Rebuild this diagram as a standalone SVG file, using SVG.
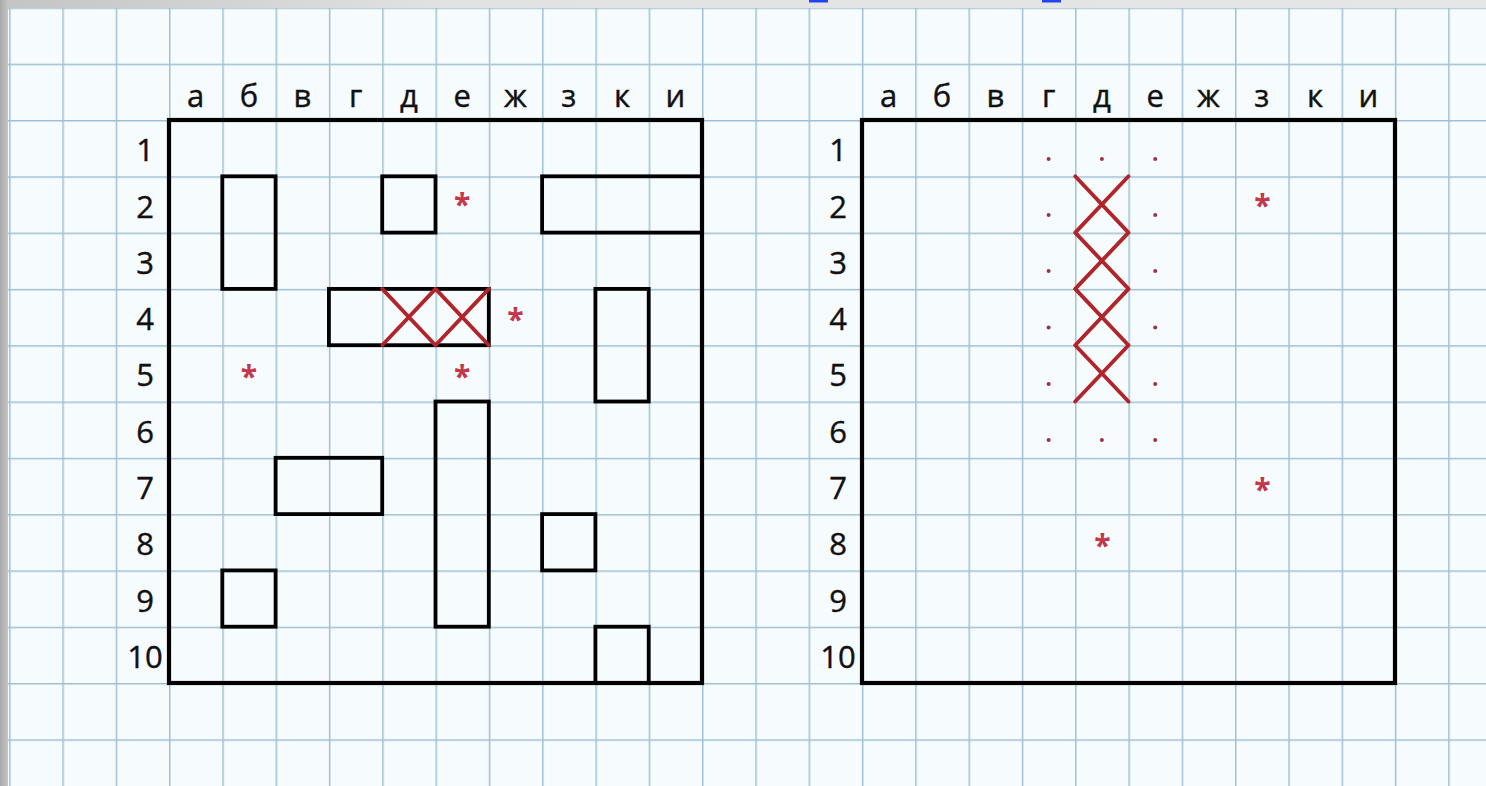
<svg xmlns="http://www.w3.org/2000/svg" width="1486" height="786" viewBox="0 0 1486 786">
<defs>
<linearGradient id="topbar" x1="0" y1="0" x2="1" y2="0">
<stop offset="0" stop-color="#c4c4c4"/><stop offset="0.3" stop-color="#e2e2e2"/><stop offset="1" stop-color="#e6e6e6"/>
</linearGradient>
<linearGradient id="leftbar" x1="0" y1="0" x2="1" y2="0">
<stop offset="0" stop-color="#a8a8a8"/><stop offset="1" stop-color="#c6c6c6"/>
</linearGradient>
<pattern id="grid" x="9.1" y="7.4" width="53.3" height="56.3" patternUnits="userSpaceOnUse">
<rect width="53.3" height="56.3" fill="#f6fbfe"/>
<path d="M0.7 0 V56.3 M0 0.7 H53.3" stroke="#9ec0d2" stroke-width="1.5" fill="none"/>
</pattern>
</defs>
<style>
.board{fill:none;stroke:#000;stroke-width:4.2}
.ship{fill:none;stroke:#000;stroke-width:3.8}
.hit{stroke:#b0242a;stroke-width:3.8;fill:none;stroke-linecap:round}
.lbl{font-family:"Open Sans","Noto Sans","DejaVu Sans",sans-serif;font-size:31px;fill:#111;text-anchor:middle;stroke:#111;stroke-width:0.4}
.miss{font-family:"Open Sans","Noto Sans","DejaVu Sans",sans-serif;font-size:30px;font-weight:bold;fill:#c4364a;text-anchor:middle}
.dot{fill:#a03040}
</style>
<rect width="1486" height="786" fill="url(#grid)"/>
<rect x="0" y="0" width="1486" height="8" fill="url(#topbar)"/>
<rect x="0" y="0" width="8" height="786" fill="url(#leftbar)"/>
<rect x="809" y="0" width="19" height="2.5" fill="#2244ee"/>
<rect x="1042" y="0" width="19" height="2.5" fill="#2244ee"/>

<g id="left-board">
<g id="left-labels">
<text class="lbl" x="195.6" y="107">а</text><text class="lbl" x="249" y="107">б</text><text class="lbl" x="302.3" y="107">в</text><text class="lbl" x="355.6" y="107">г</text><text class="lbl" x="408.9" y="107">д</text><text class="lbl" x="462.2" y="107">е</text><text class="lbl" x="515.5" y="107">ж</text><text class="lbl" x="568.8" y="107">з</text><text class="lbl" x="622.1" y="107">к</text><text class="lbl" x="675.4" y="107">и</text>
<text class="lbl" x="145" y="161">1</text><text class="lbl" x="145" y="217.5">2</text><text class="lbl" x="145" y="273.8">3</text><text class="lbl" x="145" y="330.1">4</text><text class="lbl" x="145" y="386.4">5</text><text class="lbl" x="145" y="442.7">6</text><text class="lbl" x="145" y="499">7</text><text class="lbl" x="145" y="555.3">8</text><text class="lbl" x="145" y="611.6">9</text><text class="lbl" x="145" y="667.9">10</text>
</g>
<rect id="left-frame" class="board" x="169" y="120" width="533" height="563"/>
<g id="left-ships">
<rect id="ship-b2" class="ship" x="222.3" y="176.3" width="53.3" height="112.6"/>
<rect id="ship-d2" class="ship" x="382.2" y="176.3" width="53.3" height="56.3"/>
<rect id="ship-z2" class="ship" x="542.1" y="176.3" width="159.9" height="56.3"/>
<rect id="ship-g4" class="ship" x="328.9" y="288.9" width="159.9" height="56.3"/>
<rect id="ship-k4" class="ship" x="595.4" y="288.9" width="53.3" height="112.6"/>
<rect id="ship-e6" class="ship" x="435.5" y="401.5" width="53.3" height="225.2"/>
<rect id="ship-v7" class="ship" x="275.6" y="457.8" width="106.6" height="56.3"/>
<rect id="ship-z8" class="ship" x="542.1" y="514.1" width="53.3" height="56.3"/>
<rect id="ship-b9" class="ship" x="222.3" y="570.4" width="53.3" height="56.3"/>
<rect id="ship-k10" class="ship" x="595.4" y="626.7" width="53.3" height="56.3"/>
</g>
<g id="left-hits">
<path class="hit" d="M382.2 288.9 L435.5 345.2 M435.5 288.9 L382.2 345.2 M435.5 288.9 L488.8 345.2 M488.8 288.9 L435.5 345.2"/>
</g>
<g id="left-misses">
<text class="miss" x="462.2" y="215">*</text>
<text class="miss" x="515.5" y="330">*</text>
<text class="miss" x="249" y="387">*</text>
<text class="miss" x="462.2" y="387">*</text>
</g>
</g>

<g id="right-board">
<g id="right-labels">
<text class="lbl" x="888.6" y="107">а</text><text class="lbl" x="942" y="107">б</text><text class="lbl" x="995.3" y="107">в</text><text class="lbl" x="1048.6" y="107">г</text><text class="lbl" x="1101.9" y="107">д</text><text class="lbl" x="1155.2" y="107">е</text><text class="lbl" x="1208.5" y="107">ж</text><text class="lbl" x="1261.8" y="107">з</text><text class="lbl" x="1315.1" y="107">к</text><text class="lbl" x="1368.4" y="107">и</text>
<text class="lbl" x="838" y="161">1</text><text class="lbl" x="838" y="217.5">2</text><text class="lbl" x="838" y="273.8">3</text><text class="lbl" x="838" y="330.1">4</text><text class="lbl" x="838" y="386.4">5</text><text class="lbl" x="838" y="442.7">6</text><text class="lbl" x="838" y="499">7</text><text class="lbl" x="838" y="555.3">8</text><text class="lbl" x="838" y="611.6">9</text><text class="lbl" x="838" y="667.9">10</text>
</g>
<rect id="right-frame" class="board" x="862" y="120" width="533" height="563"/>
<g id="right-hits">
<path class="hit" d="M1075.2 176.3 L1128.5 232.6 M1128.5 176.3 L1075.2 232.6 M1075.2 232.6 L1128.5 288.9 M1128.5 232.6 L1075.2 288.9 M1075.2 288.9 L1128.5 345.2 M1128.5 288.9 L1075.2 345.2 M1075.2 345.2 L1128.5 401.5 M1128.5 345.2 L1075.2 401.5"/>
</g>
<g id="right-dots">
<circle class="dot" cx="1048.6" cy="159" r="2"/><circle class="dot" cx="1101.9" cy="159" r="2"/><circle class="dot" cx="1155.2" cy="159" r="2"/>
<circle class="dot" cx="1048.6" cy="215" r="2"/><circle class="dot" cx="1155.2" cy="215" r="2"/>
<circle class="dot" cx="1048.6" cy="271" r="2"/><circle class="dot" cx="1155.2" cy="271" r="2"/>
<circle class="dot" cx="1048.6" cy="327.5" r="2"/><circle class="dot" cx="1155.2" cy="327.5" r="2"/>
<circle class="dot" cx="1048.6" cy="384" r="2"/><circle class="dot" cx="1155.2" cy="384" r="2"/>
<circle class="dot" cx="1048.6" cy="440" r="2"/><circle class="dot" cx="1101.9" cy="440" r="2"/><circle class="dot" cx="1155.2" cy="440" r="2"/>
</g>
<g id="right-misses">
<text class="miss" x="1262.5" y="216">*</text>
<text class="miss" x="1262.5" y="500">*</text>
<text class="miss" x="1102.5" y="556">*</text>
</g>
</g>
</svg>
